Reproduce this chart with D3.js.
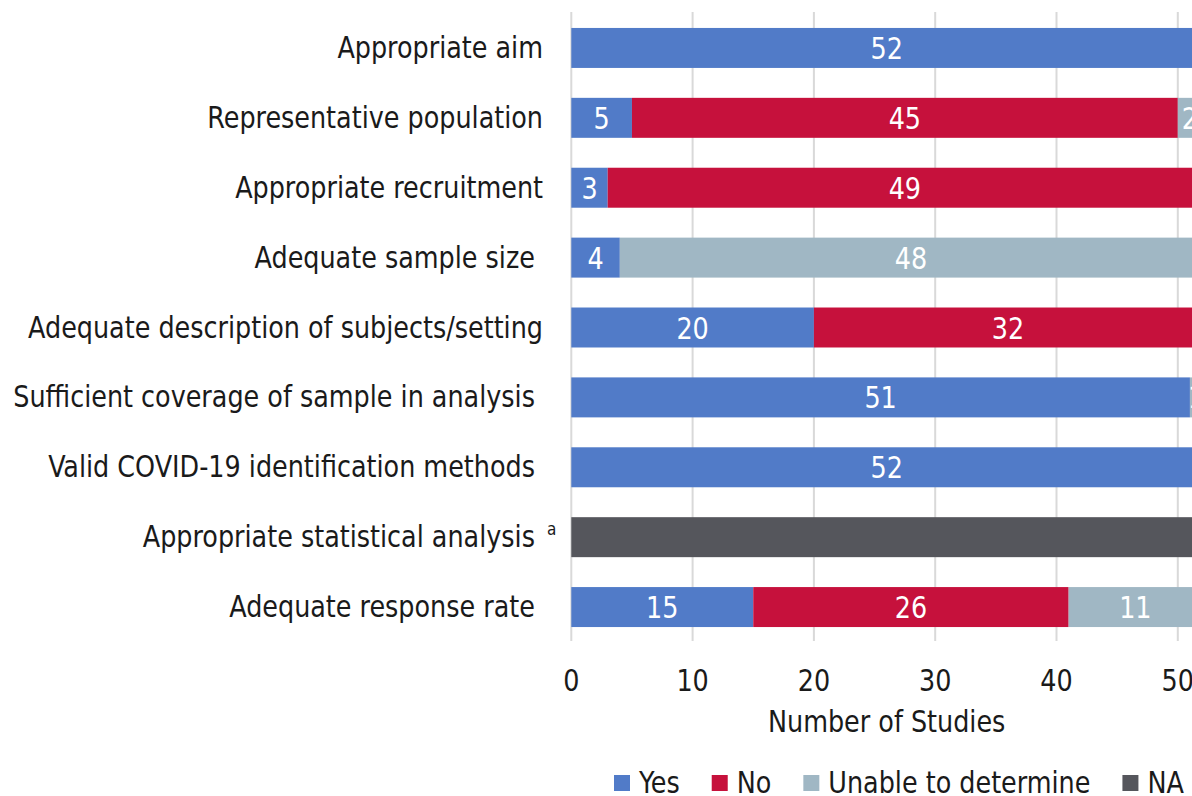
<!DOCTYPE html>
<html>
<head>
<meta charset="utf-8">
<script src="https://cdn.jsdelivr.net/npm/d3@7"></script>
<style>
  html, body { margin: 0; padding: 0; background: #ffffff; overflow: hidden; }
  svg { display: block; }
  text { font-family: "DejaVu Sans Condensed", "DejaVu Sans", sans-serif; white-space: pre; }
</style>
</head>
<body>
<svg id="chart" width="1192" height="796"></svg>
<script>
// ---- data ----
const categories = [
  "Appropriate aim",
  "Representative population",
  "Appropriate recruitment",
  "Adequate sample size ",
  "Adequate description of subjects/setting",
  "Sufficient coverage of sample in analysis ",
  "Valid COVID-19 identification methods ",
  "Appropriate statistical analysis ",
  "Adequate response rate "
];
const footnotes = ["", "", "", "", "", "", "", "a", ""];
const yesValues    = [52, 5, 3, 4, 20, 51, 52, 0, 15];
const noValues     = [0, 45, 49, 0, 32, 0, 0, 0, 26];
const unableValues = [0, 2, 0, 48, 0, 1, 0, 0, 11];
const naValues     = [0, 0, 0, 0, 0, 0, 0, 52, 0];
const seriesNames  = ["Yes", "No", "Unable to determine", "NA"];
const seriesColors = ["#517BC8", "#C6113C", "#A0B7C4", "#55565C"];
const showLabels   = [true, true, true, false];
const xTicks = [0, 10, 20, 30, 40, 50, 60];
const xTitle = "Number of Studies";

// ---- setup ----
const svg = d3.select("#chart");
const FS = 30;
const plotLeft = 571.3;
const unit = 12.13;

// horizontal squeeze factor so the text matches the reference's narrow face
const probe = svg.append("text").attr("font-size", FS).text(categories[4]);
const natural = probe.node().getComputedTextLength();
probe.remove();
const SX = 515 / natural;

function placeText(sel, x, y) {
  return sel.attr("transform", `translate(${x},${y}) scale(${SX},1)`);
}

const rows = categories.map((c, i) => ({
  cat: c, "Yes": yesValues[i], "No": noValues[i],
  "Unable to determine": unableValues[i], "NA": naValues[i]
}));

const x = d3.scaleLinear().domain([0, 60]).range([plotLeft, plotLeft + 60 * unit]);
const y = d3.scaleBand().domain(categories).range([13, 642]).paddingInner(0.428).paddingOuter(0.214);

// gridlines (drawn behind bars, extend below as tick marks)
svg.append("g").selectAll("line").data(xTicks).join("line")
  .attr("x1", d => x(d)).attr("x2", d => x(d))
  .attr("y1", 12).attr("y2", 641)
  .attr("stroke", "#d9d9d9").attr("stroke-width", 2);

// stacked bars
const stack = d3.stack().keys(seriesNames)(rows);
const color = d3.scaleOrdinal().domain(seriesNames).range(seriesColors);

const layers = svg.append("g").selectAll("g").data(stack).join("g")
  .attr("fill", d => color(d.key));

layers.selectAll("rect").data(d => d.map(p => ({ p, key: d.key })))
  .join("rect")
  .attr("x", d => x(d.p[0]))
  .attr("y", d => y(d.p.data.cat))
  .attr("width", d => x(d.p[1]) - x(d.p[0]))
  .attr("height", y.bandwidth());

// value labels
stack.forEach((layer, si) => {
  if (!showLabels[si]) return;
  layer.forEach(p => {
    const v = p[1] - p[0];
    if (v <= 0) return;
    const t = svg.append("text")
      .attr("font-size", FS)
      .attr("fill", "#ffffff")
      .attr("text-anchor", "middle")
      .text(v);
    placeText(t, x((p[0] + p[1]) / 2), y(p.data.cat) + y.bandwidth() / 2 + 11);
  });
});

// category labels
categories.forEach((c, i) => {
  const cy = y(c) + y.bandwidth() / 2 + 10;
  const t = svg.append("text")
    .attr("font-size", FS)
    .attr("fill", "#1a1a1a")
    .attr("text-anchor", "end")
    .text(c);
  placeText(t, 543, cy);
  if (footnotes[i]) {
    const f = svg.append("text")
      .attr("font-size", 18)
      .attr("fill", "#1a1a1a")
      .text(footnotes[i]);
    placeText(f, 547, cy - 12);
  }
});

// x tick labels
xTicks.forEach(v => {
  const t = svg.append("text")
    .attr("font-size", FS)
    .attr("fill", "#1a1a1a")
    .attr("text-anchor", "middle")
    .text(v);
  placeText(t, x(v), 691);
});

// x axis title (centred on the full data extent)
placeText(svg.append("text")
  .attr("font-size", FS)
  .attr("fill", "#1a1a1a")
  .attr("text-anchor", "middle")
  .text(xTitle), (x(0) + x(52)) / 2, 732);

// legend
let lx = 614;
seriesNames.forEach((name, i) => {
  svg.append("rect")
    .attr("x", lx).attr("y", 775).attr("width", 16).attr("height", 16)
    .attr("fill", seriesColors[i]);
  const t = svg.append("text")
    .attr("font-size", FS)
    .attr("fill", "#1a1a1a")
    .text(name);
  placeText(t, lx + 25, 793);
  const w = t.node().getComputedTextLength() * SX;
  lx = lx + 25 + w + 32;
});
</script>
</body>
</html>
